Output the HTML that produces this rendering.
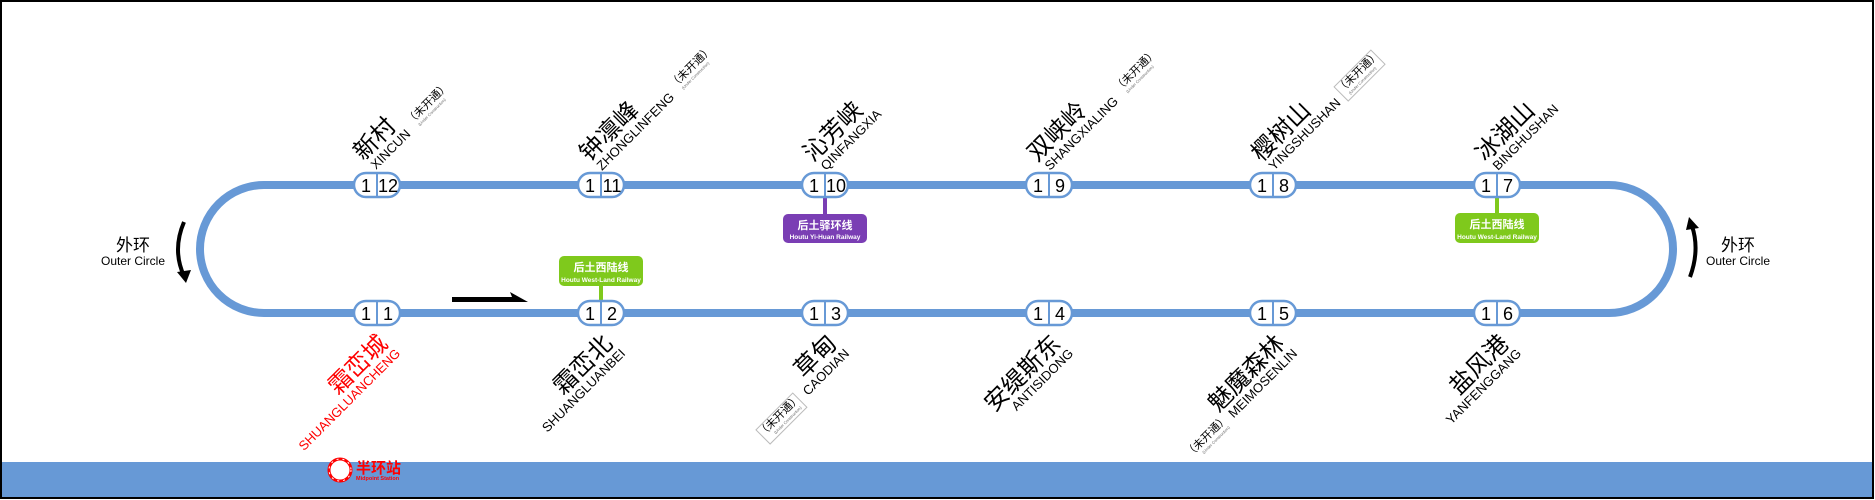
<!DOCTYPE html>
<html><head><meta charset="utf-8"><style>
html,body{margin:0;padding:0;background:#fff;}
svg{display:block;}
text{font-family:"Liberation Sans","Noto Sans CJK SC",sans-serif;}
</style></head><body>
<svg width="1875" height="500" viewBox="0 0 1875 500" xmlns="http://www.w3.org/2000/svg">
<rect x="0" y="0" width="1875" height="500" fill="#fff"/>
<rect x="1" y="462" width="1873" height="36" fill="#6799d6"/>
<rect x="1" y="1" width="1872" height="497" fill="none" stroke="#000" stroke-width="2"/>

<path d="M264,185 H1609 A64,64 0 0 1 1609,313 H264 A64,64 0 0 1 264,185 Z" fill="none" stroke="#6799d6" stroke-width="8"/>

<path d="M184,222 Q172,250 184,276" fill="none" stroke="#000" stroke-width="4"/>
<polygon points="177,272 191,270 186,283" fill="#000"/>
<path d="M1690,277 Q1700,250 1692,226" fill="none" stroke="#000" stroke-width="4"/>
<polygon points="1686,230 1699,228 1689,217" fill="#000"/>
<text x="133" y="251" font-size="17" text-anchor="middle">外环</text>
<text x="133" y="265" font-size="12" text-anchor="middle">Outer Circle</text>
<text x="1738" y="251" font-size="17" text-anchor="middle">外环</text>
<text x="1738" y="265" font-size="12" text-anchor="middle">Outer Circle</text>

<polygon points="452,297 512,297 510,292 528,302 452,302" fill="#000"/>

<rect x="599" y="286" width="4" height="16" fill="#7fc91c"/>
<rect x="559" y="256" width="84" height="30" rx="5" fill="#7fc91c"/>
<text x="601" y="271" font-size="11" font-weight="bold" fill="#fff" text-anchor="middle">后土西陆线</text>
<text x="601" y="282" font-size="6.5" font-weight="bold" fill="#fff" text-anchor="middle">Houtu West-Land Railway</text>

<rect x="823" y="196" width="4" height="19" fill="#7a3eb4"/>
<rect x="783" y="214" width="84" height="29" rx="5" fill="#7a3eb4"/>
<text x="825" y="229" font-size="11" font-weight="bold" fill="#fff" text-anchor="middle">后土驿环线</text>
<text x="825" y="239" font-size="6.5" font-weight="bold" fill="#fff" text-anchor="middle">Houtu Yi-Huan Railway</text>

<rect x="1495" y="196" width="4" height="17" fill="#7fc91c"/>
<rect x="1455" y="213" width="84" height="30" rx="5" fill="#7fc91c"/>
<text x="1497" y="228" font-size="11" font-weight="bold" fill="#fff" text-anchor="middle">后土西陆线</text>
<text x="1497" y="239" font-size="6.5" font-weight="bold" fill="#fff" text-anchor="middle">Houtu West-Land Railway</text>

<g font-size="18" text-anchor="middle">
<g transform="translate(377,185)"><rect x="-23" y="-12" width="46" height="24" rx="12" fill="#fff" stroke="#6799d6" stroke-width="2.5"/><line x1="0" y1="-12" x2="0" y2="12" stroke="#6799d6" stroke-width="2"/><text x="-11" y="7">1</text><text x="11" y="7">12</text></g>
<g transform="translate(601,185)"><rect x="-23" y="-12" width="46" height="24" rx="12" fill="#fff" stroke="#6799d6" stroke-width="2.5"/><line x1="0" y1="-12" x2="0" y2="12" stroke="#6799d6" stroke-width="2"/><text x="-11" y="7">1</text><text x="11" y="7">11</text></g>
<g transform="translate(825,185)"><rect x="-23" y="-12" width="46" height="24" rx="12" fill="#fff" stroke="#6799d6" stroke-width="2.5"/><line x1="0" y1="-12" x2="0" y2="12" stroke="#6799d6" stroke-width="2"/><text x="-11" y="7">1</text><text x="11" y="7">10</text></g>
<g transform="translate(1049,185)"><rect x="-23" y="-12" width="46" height="24" rx="12" fill="#fff" stroke="#6799d6" stroke-width="2.5"/><line x1="0" y1="-12" x2="0" y2="12" stroke="#6799d6" stroke-width="2"/><text x="-11" y="7">1</text><text x="11" y="7">9</text></g>
<g transform="translate(1273,185)"><rect x="-23" y="-12" width="46" height="24" rx="12" fill="#fff" stroke="#6799d6" stroke-width="2.5"/><line x1="0" y1="-12" x2="0" y2="12" stroke="#6799d6" stroke-width="2"/><text x="-11" y="7">1</text><text x="11" y="7">8</text></g>
<g transform="translate(1497,185)"><rect x="-23" y="-12" width="46" height="24" rx="12" fill="#fff" stroke="#6799d6" stroke-width="2.5"/><line x1="0" y1="-12" x2="0" y2="12" stroke="#6799d6" stroke-width="2"/><text x="-11" y="7">1</text><text x="11" y="7">7</text></g>
<g transform="translate(377,313)"><rect x="-23" y="-12" width="46" height="24" rx="12" fill="#fff" stroke="#6799d6" stroke-width="2.5"/><line x1="0" y1="-12" x2="0" y2="12" stroke="#6799d6" stroke-width="2"/><text x="-11" y="7">1</text><text x="11" y="7">1</text></g>
<g transform="translate(601,313)"><rect x="-23" y="-12" width="46" height="24" rx="12" fill="#fff" stroke="#6799d6" stroke-width="2.5"/><line x1="0" y1="-12" x2="0" y2="12" stroke="#6799d6" stroke-width="2"/><text x="-11" y="7">1</text><text x="11" y="7">2</text></g>
<g transform="translate(825,313)"><rect x="-23" y="-12" width="46" height="24" rx="12" fill="#fff" stroke="#6799d6" stroke-width="2.5"/><line x1="0" y1="-12" x2="0" y2="12" stroke="#6799d6" stroke-width="2"/><text x="-11" y="7">1</text><text x="11" y="7">3</text></g>
<g transform="translate(1049,313)"><rect x="-23" y="-12" width="46" height="24" rx="12" fill="#fff" stroke="#6799d6" stroke-width="2.5"/><line x1="0" y1="-12" x2="0" y2="12" stroke="#6799d6" stroke-width="2"/><text x="-11" y="7">1</text><text x="11" y="7">4</text></g>
<g transform="translate(1273,313)"><rect x="-23" y="-12" width="46" height="24" rx="12" fill="#fff" stroke="#6799d6" stroke-width="2.5"/><line x1="0" y1="-12" x2="0" y2="12" stroke="#6799d6" stroke-width="2"/><text x="-11" y="7">1</text><text x="11" y="7">5</text></g>
<g transform="translate(1497,313)"><rect x="-23" y="-12" width="46" height="24" rx="12" fill="#fff" stroke="#6799d6" stroke-width="2.5"/><line x1="0" y1="-12" x2="0" y2="12" stroke="#6799d6" stroke-width="2"/><text x="-11" y="7">1</text><text x="11" y="7">6</text></g>
</g>

<g transform="translate(376,170) rotate(-45)"><text x="-3" y="-15" font-size="24">新村</text><text x="0" y="0" font-size="13">XINCUN</text>
<text x="56" y="-7" font-size="11">（未开通）</text><text x="62" y="0" font-size="4" fill="#666">(Under Construction)</text></g>
<g transform="translate(602,171) rotate(-45)"><text x="-3" y="-15" font-size="24">钟凛峰</text><text x="0" y="0" font-size="13">ZHONGLINFENG</text>
<text x="109" y="-7" font-size="11">（未开通）</text><text x="115" y="0" font-size="4" fill="#666">(Under Construction)</text></g>
<g transform="translate(826,171) rotate(-45)"><text x="-3" y="-15" font-size="24">沁芳峡</text><text x="0" y="0" font-size="13">QINFANGXIA</text></g>
<g transform="translate(1050,171) rotate(-45)"><text x="-3" y="-15" font-size="24">双峡岭</text><text x="0" y="0" font-size="13">SHANGXIALING</text>
<text x="104" y="-7" font-size="11">（未开通）</text><text x="110" y="0" font-size="4" fill="#666">(Under Construction)</text></g>
<g transform="translate(1274,171) rotate(-45)"><text x="-3" y="-15" font-size="24">樱树山</text><text x="0" y="0" font-size="13">YINGSHUSHAN</text>
<rect x="102" y="-17" width="52" height="20" fill="#fff" stroke="#bbb" stroke-width="1"/>
<text x="102" y="-7" font-size="11">（未开通）</text><text x="108" y="0" font-size="4" fill="#666">(Under Construction)</text></g>
<g transform="translate(1498,171) rotate(-45)"><text x="-3" y="-15" font-size="24">冰湖山</text><text x="0" y="0" font-size="13">BINGHUSHAN</text></g>

<g transform="translate(389,345) rotate(-45)" text-anchor="end" fill="#f00"><text x="0" y="0" font-size="24">霜峦城</text><text x="2" y="15" font-size="13">SHUANGLUANCHENG</text></g>
<g transform="translate(614,345) rotate(-45)" text-anchor="end"><text x="0" y="0" font-size="24">霜峦北</text><text x="2" y="15" font-size="13">SHUANGLUANBEI</text></g>
<g transform="translate(838,345) rotate(-45)" text-anchor="end"><text x="0" y="0" font-size="24">草甸</text><text x="2" y="15" font-size="13">CAODIAN</text>
<rect x="-118" y="2" width="52" height="20" fill="#fff" stroke="#bbb" stroke-width="1"/>
<text x="-64" y="12" font-size="11">（未开通）</text><text x="-70" y="19" font-size="4" fill="#666">(Under Construction)</text></g>
<g transform="translate(1062,345) rotate(-45)" text-anchor="end"><text x="0" y="0" font-size="24">安缇斯东</text><text x="2" y="15" font-size="13">ANTISIDONG</text></g>
<g transform="translate(1286,345) rotate(-45)" text-anchor="end"><text x="0" y="0" font-size="24">魅魔森林</text><text x="2" y="15" font-size="13">MEIMOSENLIN</text>
<text x="-93" y="12" font-size="11">（未开通）</text><text x="-98" y="19" font-size="4" fill="#666">(Under Construction)</text></g>
<g transform="translate(1510,345) rotate(-45)" text-anchor="end"><text x="0" y="0" font-size="24">盐风港</text><text x="2" y="15" font-size="13">YANFENGGANG</text></g>

<circle cx="340" cy="470" r="11" fill="#fff" stroke="#f00" stroke-width="3"/>
<circle cx="340" cy="470" r="11" fill="none" stroke="#fff" stroke-width="1" stroke-dasharray="2 4"/>
<text x="356" y="473" font-size="15" font-weight="bold" fill="#f00">半环站</text>
<text x="356" y="480" font-size="5.5" font-weight="bold" fill="#f00">Midpoint Station</text>
</svg>
</body></html>
